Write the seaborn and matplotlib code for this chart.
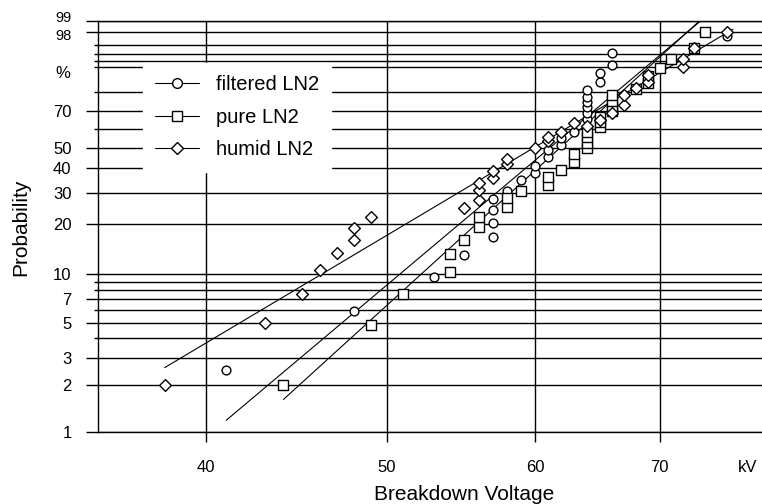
import numpy as np
import matplotlib
matplotlib.use("Agg")
import matplotlib.pyplot as plt
import seaborn as sns
from matplotlib.lines import Line2D
from matplotlib.ticker import FixedLocator, NullLocator, NullFormatter

sns.set_style("white")
plt.rcParams["font.family"] = ["Liberation Sans", "DejaVu Sans"]
plt.rcParams["text.color"] = "black"
plt.rcParams["xtick.labelcolor"] = "black"
plt.rcParams["ytick.labelcolor"] = "black"

# breakdown data (kV, cumulative probability in %)
filtered_kv = [41, 48, 53, 55, 57, 57, 57, 57, 58, 59, 60, 60, 61, 61, 62, 62, 63,
               64, 64, 64, 64, 64, 64, 65, 65, 66, 66, 76]
filtered_p = [2.5, 5.9, 9.6, 13.2, 16.7, 20.2, 24.0, 27.6, 30.6, 34.9, 38.1, 41.2, 45.6, 49.1,
              51.8, 55.3, 58.8, 65.8, 68.7, 72.2, 74.8, 77.4, 80.7, 84.4, 87.9, 90.8, 94.3, 97.5]

pure_kv = [44, 49, 51, 54, 54, 55, 56, 56, 58, 58, 59, 61, 61, 62, 63, 63, 64, 64, 64, 64,
           65, 65, 65, 66, 66, 66, 66, 68, 69, 69, 70, 71, 73, 74]
pure_p = [2.0, 4.8, 7.6, 10.4, 13.3, 16.1, 19.3, 22.0, 25.1, 27.9, 30.7, 32.9, 36.3, 39.3,
          43.1, 47.2, 50.0, 52.8, 55.6, 58.5, 61.3, 64.1, 66.8, 70.0, 72.6, 75.4, 78.2,
          81.1, 83.9, 86.7, 89.8, 92.7, 95.5, 98.0]

humid_kv = [38, 43, 45, 46, 47, 48, 48, 49, 55, 56, 56, 56, 57, 57, 58, 58, 60, 61, 61, 62,
            63, 64, 65, 66, 67, 67, 68, 69, 69, 72, 72, 73, 76]
humid_p = [2.0, 5.0, 7.6, 10.6, 13.4, 16.1, 19.0, 21.9, 24.7, 27.5, 31.0, 33.7, 35.8, 39.0,
           42.0, 44.7, 50.2, 53.5, 55.8, 58.6, 63.2, 61.8, 65.0, 68.8, 73.1, 78.2, 81.6,
           84.4, 87.2, 90.1, 92.6, 95.5, 98.0]

# fitted Weibull lines (end points)
fit_filtered_kv = [41.0, 73.6]
fit_filtered_p = [1.19, 99.0]
fit_pure_kv = [44.0, 73.5]
fit_pure_p = [1.62, 99.0]
fit_humid_kv = [38.0, 76.6]
fit_humid_p = [2.59, 98.3]

prob_major = [1, 2, 3, 5, 7, 10, 20, 30, 40, 50, 70, 98, 99]
prob_minor = [4, 6, 8, 9, 60, 80, 90, 92, 94, 96]
kv_ticks = [40, 50, 60, 70]


def weib(p):
    p = np.clip(np.asarray(p, dtype=float), 1e-6, 100 - 1e-6)
    return np.log(-np.log(1 - p / 100))


def weib_inv(w):
    return 100 * (1 - np.exp(-np.exp(w)))


fig = plt.figure(figsize=(7.62, 5.04), dpi=100)
ax = fig.add_axes([98 / 762, 72 / 504, 664 / 762, 411 / 504])
ax.set_xscale("log")
ax.set_yscale("function", functions=(weib, weib_inv))

line_kw = dict(color="black", linewidth=0.8, estimator=None, sort=False, zorder=3)
sns.lineplot(x=fit_filtered_kv, y=fit_filtered_p, ax=ax, **line_kw)
sns.lineplot(x=fit_pure_kv, y=fit_pure_p, ax=ax, **line_kw)
sns.lineplot(x=fit_humid_kv, y=fit_humid_p, ax=ax, **line_kw)

pt_kw = dict(color="white", edgecolor="black", linewidth=1.0, zorder=4, ax=ax)
sns.scatterplot(x=filtered_kv, y=filtered_p, marker="o", s=40, **pt_kw)
sns.scatterplot(x=pure_kv, y=pure_p, marker="s", s=44, **pt_kw)
sns.scatterplot(x=humid_kv, y=humid_p, marker="D", s=36, **pt_kw)

ax.set_xlim(35, 79.4)
ax.set_ylim(1, 99)

ax.set_xticks(kv_ticks)
ax.set_xticklabels([str(v) for v in kv_ticks])
ax.xaxis.set_minor_locator(NullLocator())
# 98 and 99 are written by hand below, nudged apart so they do not collide
ax.set_yticks(prob_major)
ax.set_yticklabels(["" if v >= 98 else str(v) for v in prob_major])
ax.yaxis.set_minor_locator(FixedLocator(prob_minor))
ax.yaxis.set_minor_formatter(NullFormatter())

ax.set_axisbelow(True)
ax.grid(True, which="both", axis="y", color="black", linewidth=1.0)
ax.grid(True, which="major", axis="x", color="black", linewidth=1.0)

ax.tick_params(axis="y", which="major", left=True, direction="out", length=9, width=1.0,
               pad=10, labelsize=12, color="black")
ax.tick_params(axis="y", which="minor", left=True, direction="out", length=3, width=1.0,
               color="black")
ax.tick_params(axis="x", which="major", bottom=True, direction="out", length=7.5, width=1.0,
               pad=13, labelsize=12, color="black")
for side in ["left", "bottom", "top"]:
    ax.spines[side].set_color("black")
    ax.spines[side].set_linewidth(1.0)
ax.spines["right"].set_visible(False)
ax.set_xlabel("")
ax.set_ylabel("")

for val, dy in [(99, 3.5), (98, -4.0)]:
    ax.annotate(str(val), xy=(0, val), xycoords=("axes fraction", "data"), xytext=(-26, dy),
                textcoords="offset pixels", ha="right", va="center", fontsize=10.5)
ax.annotate("%", xy=(0, 88), xycoords=("axes fraction", "data"), xytext=(-28, 0),
            textcoords="offset pixels", ha="right", va="center", fontsize=12)

handles = [
    Line2D([], [], color="black", linewidth=0.8, marker="o", markersize=7,
           markerfacecolor="white", markeredgecolor="black"),
    Line2D([], [], color="black", linewidth=0.8, marker="s", markersize=7,
           markerfacecolor="white", markeredgecolor="black"),
    Line2D([], [], color="black", linewidth=0.8, marker="D", markersize=6,
           markerfacecolor="white", markeredgecolor="black"),
]
leg = ax.legend(handles, ["filtered LN2", "pure LN2", "humid LN2"], loc="upper left",
                bbox_to_anchor=(143 / 762, 1 - 63 / 504), bbox_transform=fig.transFigure,
                borderaxespad=0, frameon=True, fancybox=False, framealpha=1,
                facecolor="white", edgecolor="white", fontsize=14.5, handlelength=2.2,
                handletextpad=0.8, labelspacing=0.68, borderpad=0.6)
leg.set_zorder(10)
for txt in leg.get_texts():
    txt.set_color("black")

fig.text(464 / 762, 1 - 495 / 504, "Breakdown Voltage", ha="center", va="center", fontsize=15)
fig.text(21 / 762, 1 - 227 / 504, "Probability", ha="center", va="center", rotation=90,
         fontsize=15)
fig.text(748 / 762, 1 - 467 / 504, "kV", ha="center", va="center", fontsize=12)

fig.savefig("out.png", dpi=100)
